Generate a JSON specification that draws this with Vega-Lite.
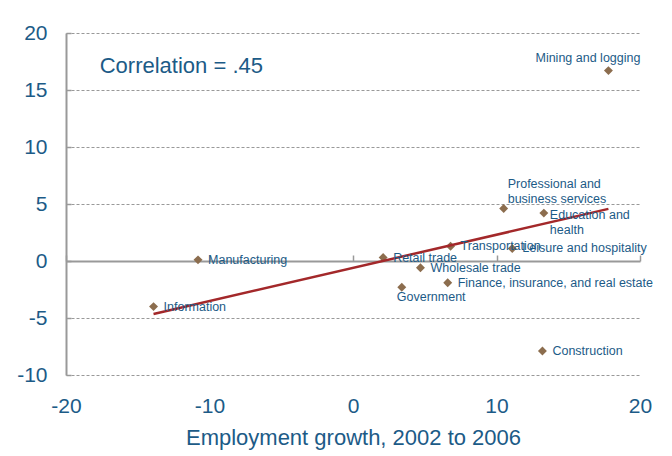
{
  "$schema": "https://vega.github.io/schema/vega-lite/v6.json",
  "width": 574,
  "height": 342,
  "autosize": {"type": "none"},
  "padding": {"left": 66, "top": 33, "right": 32, "bottom": 81},
  "background": "white",
  "config": {
    "view": {"stroke": null},
    "font": "Liberation Sans",
    "text": {"font": "Liberation Sans"}
  },
  "data": {
    "values": [
      {"sector": "Mining and logging", "x": 17.8, "y": 16.7},
      {"sector": "Professional and\nbusiness services", "x": 10.5, "y": 4.6},
      {"sector": "Education and\nhealth", "x": 13.3, "y": 4.2},
      {"sector": "Leisure and hospitality", "x": 11.1, "y": 1.1},
      {"sector": "Transportation", "x": 6.8, "y": 1.3},
      {"sector": "Retail trade", "x": 2.1, "y": 0.3},
      {"sector": "Wholesale trade", "x": 4.7, "y": -0.6},
      {"sector": "Finance, insurance, and real estate", "x": 6.6, "y": -1.9},
      {"sector": "Government", "x": 3.4, "y": -2.3},
      {"sector": "Construction", "x": 13.2, "y": -7.9},
      {"sector": "Manufacturing", "x": -10.8, "y": 0.1},
      {"sector": "Information", "x": -13.9, "y": -4.0}
    ]
  },
  "resolve": {"axis": {"x": "independent", "y": "independent"}},
  "layer": [
    {
      "mark": {"type": "point", "shape": "diamond", "filled": true, "size": 80, "color": "#8c6d4e", "opacity": 1},
      "encoding": {
        "x": {
          "field": "x", "type": "quantitative",
          "scale": {"domain": [-20, 20], "nice": false},
          "axis": {
            "values": [-20, -10, 0, 10, 20],
            "labelExpr": "replace(datum.label, '\u2212', '-')",
            "labelFlush": false,
            "domain": false, "ticks": false, "grid": false,
            "labelFontSize": 21, "labelColor": "#1c5b87", "labelPadding": 20,
            "labelFont": "Liberation Sans",
            "title": "Employment growth, 2002 to 2006",
            "titleFontSize": 22, "titleFontWeight": "normal", "titleColor": "#1c5b87",
            "titleFont": "Liberation Sans", "titlePadding": 11
          }
        },
        "y": {
          "field": "y", "type": "quantitative",
          "scale": {"domain": [-10, 20], "nice": false},
          "axis": {
            "values": [-10, -5, 0, 5, 10, 15, 20],
            "labelExpr": "replace(datum.label, '\u2212', '-')",
            "labelFlush": false,
            "domain": true, "domainColor": "#999999", "domainWidth": 2,
            "ticks": true, "tickColor": "#999999", "tickWidth": 1.5, "tickSize": -5,
            "grid": true, "gridColor": "#999999", "gridDash": [3, 2], "gridWidth": 1,
            "labelFontSize": 21, "labelColor": "#1c5b87", "labelPadding": 24,
            "labelFont": "Liberation Sans",
            "title": null
          }
        }
      }
    },
    {
      "mark": {"type": "line", "color": "#a3282a", "strokeWidth": 2.5},
      "transform": [{"regression": "y", "on": "x"}],
      "encoding": {
        "x": {
          "field": "x", "type": "quantitative",
          "axis": {
            "values": [-20, -10, 0, 10, 20],
            "orient": "bottom", "offset": -114,
            "domain": true, "domainColor": "#999999", "domainWidth": 2,
            "ticks": true, "tickColor": "#999999", "tickWidth": 1.5, "tickSize": -6,
            "labels": false, "grid": false, "title": null
          }
        },
        "y": {"field": "y", "type": "quantitative", "axis": null}
      }
    },
    {
      "mark": {"type": "text", "align": "left", "baseline": "middle", "dx": 10, "dy": 0, "fontSize": 12.5, "color": "#1c5b87"},
      "transform": [{"filter": {"field": "sector", "oneOf": ["Leisure and hospitality", "Transportation", "Retail trade", "Wholesale trade", "Finance, insurance, and real estate", "Construction", "Manufacturing", "Information"]}}],
      "encoding": {
        "x": {"field": "x", "type": "quantitative", "axis": null},
        "y": {"field": "y", "type": "quantitative", "axis": null},
        "text": {"field": "sector"}
      }
    },
    {
      "mark": {"type": "text", "align": "right", "baseline": "middle", "dx": 32, "dy": -13, "fontSize": 12.5, "color": "#1c5b87"},
      "transform": [{"filter": {"field": "sector", "equal": "Mining and logging"}}],
      "encoding": {
        "x": {"field": "x", "type": "quantitative", "axis": null},
        "y": {"field": "y", "type": "quantitative", "axis": null},
        "text": {"field": "sector"}
      }
    },
    {
      "mark": {"type": "text", "align": "left", "baseline": "top", "dx": 4, "dy": -31, "fontSize": 12.5, "lineHeight": 15, "lineBreak": "\n", "color": "#1c5b87"},
      "transform": [{"filter": {"field": "sector", "equal": "Professional and\nbusiness services"}}],
      "encoding": {
        "x": {"field": "x", "type": "quantitative", "axis": null},
        "y": {"field": "y", "type": "quantitative", "axis": null},
        "text": {"field": "sector"}
      }
    },
    {
      "mark": {"type": "text", "align": "left", "baseline": "top", "dx": 6, "dy": -4, "fontSize": 12.5, "lineHeight": 15, "lineBreak": "\n", "color": "#1c5b87"},
      "transform": [{"filter": {"field": "sector", "equal": "Education and\nhealth"}}],
      "encoding": {
        "x": {"field": "x", "type": "quantitative", "axis": null},
        "y": {"field": "y", "type": "quantitative", "axis": null},
        "text": {"field": "sector"}
      }
    },
    {
      "mark": {"type": "text", "align": "left", "baseline": "middle", "dx": -5, "dy": 10, "fontSize": 12.5, "color": "#1c5b87"},
      "transform": [{"filter": {"field": "sector", "equal": "Government"}}],
      "encoding": {
        "x": {"field": "x", "type": "quantitative", "axis": null},
        "y": {"field": "y", "type": "quantitative", "axis": null},
        "text": {"field": "sector"}
      }
    },
    {
      "data": {"values": [{"label": "Correlation = .45"}]},
      "mark": {"type": "text", "align": "left", "baseline": "middle", "fontSize": 22, "color": "#1c5b87"},
      "encoding": {
        "x": {"datum": -17.65, "type": "quantitative", "axis": null},
        "y": {"datum": 17.1, "type": "quantitative", "axis": null},
        "text": {"field": "label"}
      }
    }
  ]
}
